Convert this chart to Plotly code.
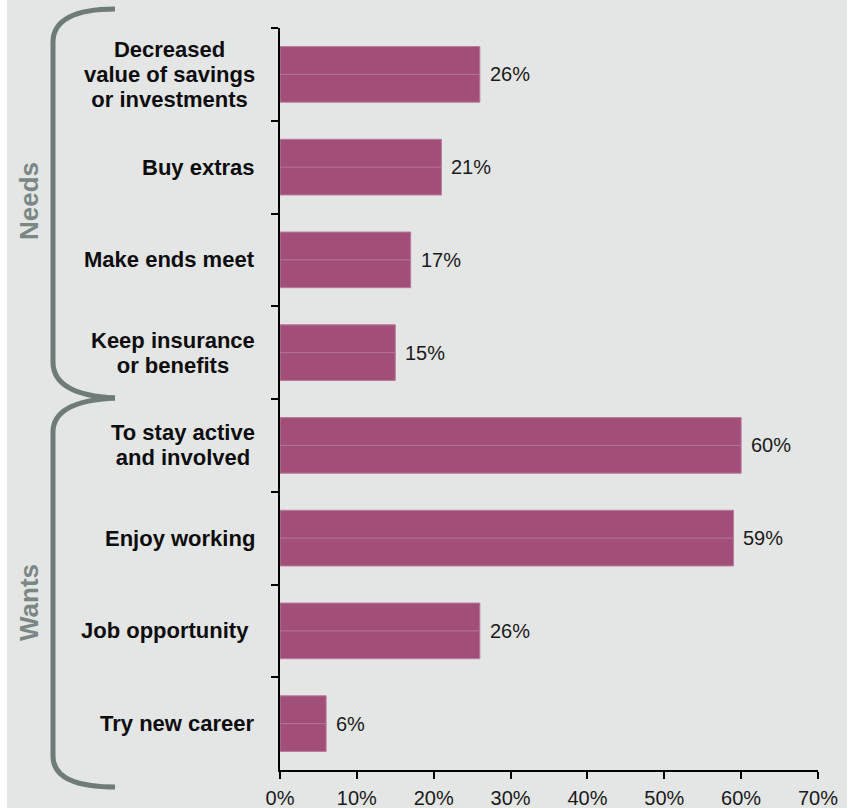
import plotly.graph_objects as go

# Reasons for working in retirement, grouped as needs and wants
categories = [
    "Decreased<br>value of savings<br>or investments",
    "Buy extras",
    "Make ends meet",
    "Keep insurance<br>or benefits",
    "To stay active<br>and involved",
    "Enjoy working",
    "Job opportunity\u00a0",
    "Try new career",
]
values = [26, 21, 17, 15, 60, 59, 26, 6]
x_ticks = [0, 10, 20, 30, 40, 50, 60, 70]
groups = ["Needs", "Wants"]

W, H = 852, 808
ML, MR, MT, MB = 280, 34, 28, 38
PW, PH = W - ML - MR, H - MT - MB

FONT = "Liberation Sans, Arial, sans-serif"
BAR = "#a14f79"
BAR_EDGE = "#bb7a9b"
BRACE = "#6f7b78"
GROUP_TXT = "#7b8784"
BG = "#e4e5e5"


def px(x):
    return (x - ML) / PW


def py(y):
    return (H - MB - y) / PH


def path(cmds):
    out = []
    for c in cmds:
        if isinstance(c, str):
            out.append(c)
        else:
            out.append(f"{px(c[0]):.5f},{py(c[1]):.5f}")
    return " ".join(out)


fig = go.Figure()
fig.add_trace(go.Bar(
    x=values,
    y=categories,
    orientation="h",
    marker=dict(color=BAR, line=dict(color=BAR_EDGE, width=1)),
    hoverinfo="skip",
))

# faint seam running along the middle of each bar
seam_x, seam_y = [], []
for cat, v in zip(categories, values):
    seam_x += [0, v, None]
    seam_y += [cat, cat, None]
fig.add_trace(go.Scatter(
    x=seam_x, y=seam_y, mode="lines",
    line=dict(color="#b4759a", width=1), hoverinfo="skip",
))

annotations = []
for cat, v in zip(categories, values):
    annotations.append(dict(
        x=v, y=cat, xref="x", yref="y", text=f"{v}%", showarrow=False,
        xanchor="left", xshift=8, font=dict(family=FONT, size=20, color="#1a1a1a"),
    ))
    # line spacing follows the small base size, glyphs use the larger span size
    label = "<br>".join(
        f"<span style='font-size:22px'><b>{line}</b></span>" for line in cat.split("<br>")
    )
    annotations.append(dict(
        x=0, y=cat, xref="paper", yref="y", text=label,
        showarrow=False, xanchor="right", align="center", xshift=-23,
        font=dict(family=FONT, size=19.2, color="#0d0d0d"),
    ))

for name, cy in zip(groups, [201, 603]):
    annotations.append(dict(
        x=px(29), y=py(cy), xref="paper", yref="paper", text=f"<b>{name}</b>",
        showarrow=False, textangle=-90, xanchor="center", yanchor="middle",
        font=dict(family=FONT, size=26, color=GROUP_TXT),
    ))

shapes = [
    dict(type="rect", xref="paper", yref="paper", x0=px(7), x1=px(847),
         y0=py(0), y1=py(H), fillcolor=BG, line=dict(width=0), layer="below"),
    # Needs brace
    dict(type="path", xref="paper", yref="paper", layer="above",
         path=path(["M", (115, 9), "C", (75, 9), (53, 20), (53, 42),
                    "L", (53, 362), "C", (53, 385), (75, 396), (115, 398)]),
         line=dict(color=BRACE, width=5)),
    # Wants brace
    dict(type="path", xref="paper", yref="paper", layer="above",
         path=path(["M", (115, 398), "C", (75, 400), (53, 410), (53, 432),
                    "L", (53, 756), "C", (53, 778), (75, 787), (115, 787)]),
         line=dict(color=BRACE, width=5)),
]

fig.update_layout(
    width=W, height=H,
    margin=dict(l=ML, r=MR, t=MT, b=MB, pad=0),
    paper_bgcolor="white",
    plot_bgcolor=BG,
    showlegend=False,
    bargap=0.4,
    annotations=annotations,
    shapes=shapes,
    font=dict(family=FONT),
)
fig.update_xaxes(
    range=[0, 70], tickvals=x_ticks, ticktext=[f"{t}%" for t in x_ticks],
    showgrid=False, zeroline=False, showline=True, linecolor="black", linewidth=1.5,
    ticks="outside", ticklen=7, tickwidth=1.5, tickcolor="black",
    ticklabelstandoff=2,
    tickfont=dict(family=FONT, size=20, color="#1a1a1a"),
    automargin=False, fixedrange=True,
)
fig.update_yaxes(
    type="category", categoryorder="array", categoryarray=categories,
    autorange="reversed", showticklabels=False,
    showgrid=False, zeroline=False, showline=True, linecolor="black", linewidth=2,
    ticks="outside", tickson="boundaries", ticklen=7, tickwidth=1.5, tickcolor="black",
    automargin=False, fixedrange=True,
)

fig.write_html("out.html")
